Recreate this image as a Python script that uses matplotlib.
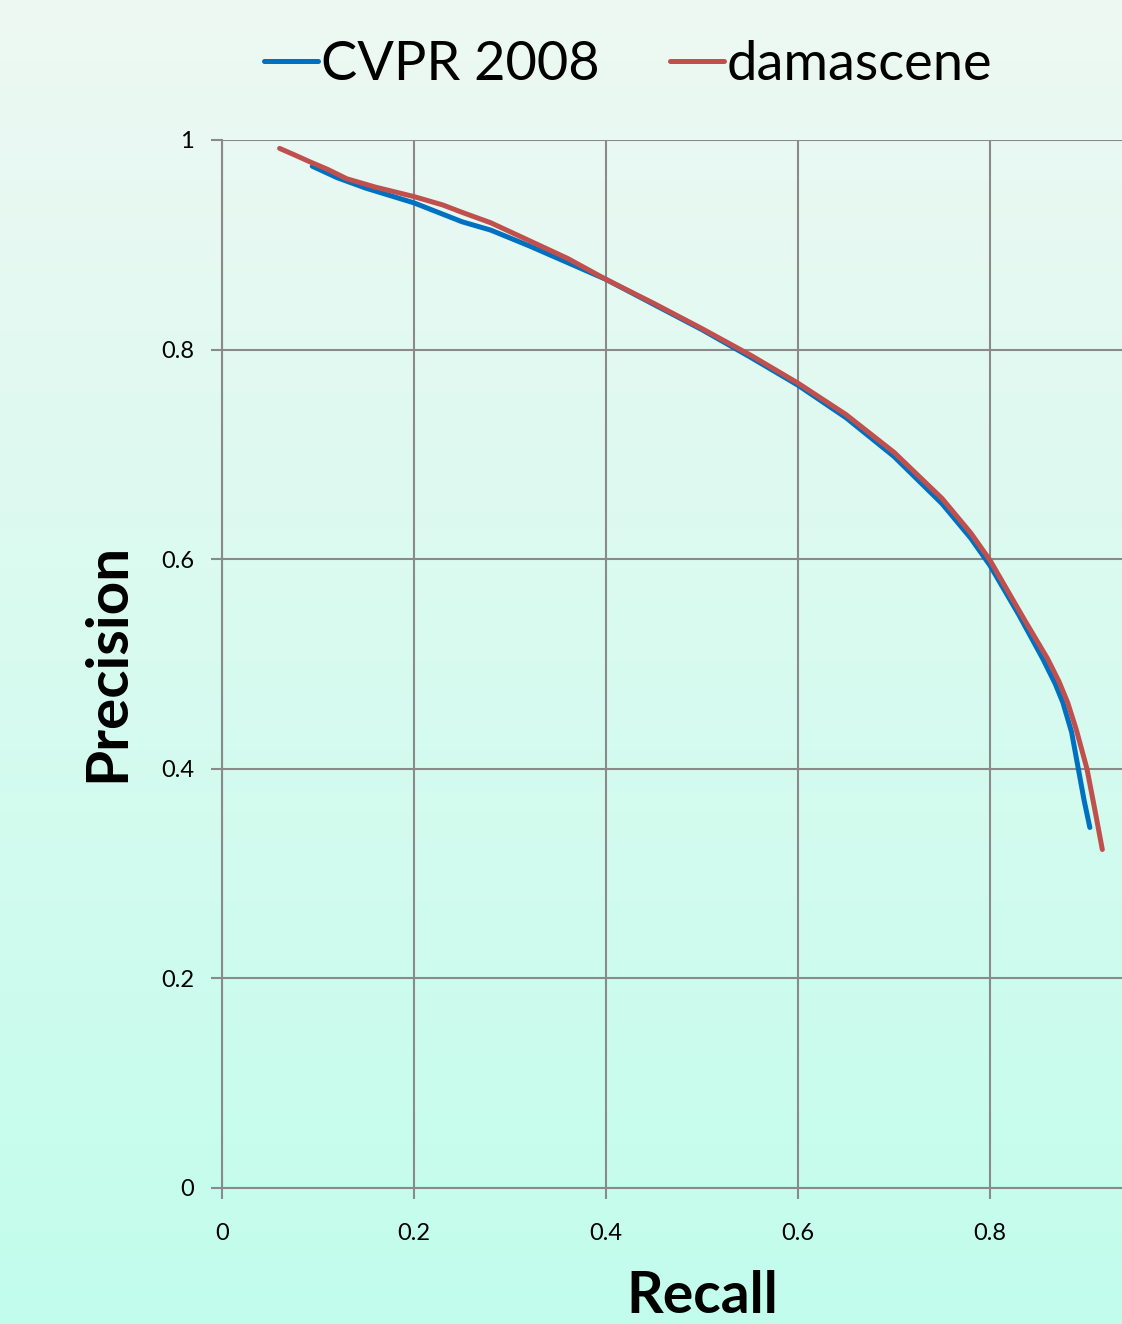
import numpy as np
import matplotlib
matplotlib.use("Agg")
import matplotlib.pyplot as plt
from matplotlib.colors import LinearSegmentedColormap

plt.rcParams['font.family'] = ['Lato', 'DejaVu Sans']

cvpr_recall = [0.094, 0.12, 0.15, 0.2, 0.25, 0.28, 0.32, 0.36, 0.4, 0.45, 0.5, 0.55,
               0.6, 0.65, 0.7, 0.75, 0.78, 0.8, 0.83, 0.855, 0.868, 0.876, 0.885, 0.892, 0.898, 0.904]
cvpr_precision = [0.975, 0.964, 0.954, 0.940, 0.922, 0.914, 0.899, 0.883, 0.867, 0.843, 0.819, 0.793,
                  0.766, 0.735, 0.698, 0.653, 0.620, 0.594, 0.547, 0.505, 0.481, 0.463, 0.435, 0.400, 0.370, 0.344]

dam_recall = [0.06, 0.075, 0.092, 0.11, 0.13, 0.16, 0.2, 0.23, 0.25, 0.28, 0.32, 0.36, 0.4,
              0.45, 0.5, 0.55, 0.6, 0.65, 0.7, 0.75, 0.78, 0.8, 0.836, 0.86, 0.872, 0.881,
              0.89, 0.901, 0.909, 0.917]
dam_precision = [0.992, 0.986, 0.979, 0.972, 0.963, 0.955, 0.946, 0.938, 0.931, 0.921, 0.904, 0.887, 0.867,
                 0.844, 0.820, 0.795, 0.768, 0.738, 0.702, 0.658, 0.625, 0.599, 0.542, 0.505, 0.483, 0.463,
                 0.437, 0.400, 0.362, 0.323]

x_ticks = [0, 0.2, 0.4, 0.6, 0.8]
x_tick_labels = ['0', '0.2', '0.4', '0.6', '0.8']
y_ticks = [0, 0.2, 0.4, 0.6, 0.8, 1]
y_tick_labels = ['0', '0.2', '0.4', '0.6', '0.8', '1']

W, H = 1122, 1324
fig = plt.figure(figsize=(W / 100, H / 100), dpi=100)

# background gradient
bg = fig.add_axes([0, 0, 1, 1], zorder=-10)
cmap = LinearSegmentedColormap.from_list('bg', ['#eef8f3', '#c2fdec'])
grad = np.linspace(0, 1, 256).reshape(-1, 1)
bg.imshow(grad, cmap=cmap, aspect='auto', extent=[0, 1, 0, 1], origin='upper')
bg.axis('off')

left = 222 / W
bottom = (H - 1188) / H
height = (1188 - 140) / H
ax = fig.add_axes([left, bottom, 1 - left, height])
ax.patch.set_alpha(0)
ax.set_xlim(0, (W - 222) / 960)
ax.set_ylim(0, 1)

grid_c = '#8a8a8a'
ax.set_xticks(x_ticks)
ax.set_xticklabels(x_tick_labels)
ax.set_yticks(y_ticks)
ax.set_yticklabels(y_tick_labels)
ax.grid(True, color=grid_c, linewidth=1.5)
for s in ['top', 'right']:
    ax.spines[s].set_visible(False)
for s in ['left', 'bottom']:
    ax.spines[s].set_color(grid_c)
    ax.spines[s].set_linewidth(1.5)
ax.tick_params(axis='both', colors=grid_c, length=8, width=1.5, labelcolor='black', labelsize=17)
ax.tick_params(axis='x', pad=17)
ax.tick_params(axis='y', pad=12)
ax.set_axisbelow(True)

l1, = ax.plot(cvpr_recall, cvpr_precision, color='#0070c0', linewidth=3.6,
              solid_capstyle='round', label='CVPR 2008')
l2, = ax.plot(dam_recall, dam_precision, color='#c0504d', linewidth=3.6,
              solid_capstyle='round', label='damascene')

fig.legend(handles=[l1, l2], loc='center', bbox_to_anchor=(0.56, 1 - 64 / H), ncol=2,
           frameon=False, fontsize=39, handlelength=1.0, handletextpad=0.05,
           columnspacing=1.3)

fig.text(108 / W, 1 - 662 / H, 'Precision', rotation=90, fontsize=42, fontweight='bold',
         ha='center', va='center')
fig.text(702 / W, 1 / H, 'Recall', fontsize=41, fontweight='bold',
         ha='center', va='bottom')

fig.savefig('out.png', dpi=100)
